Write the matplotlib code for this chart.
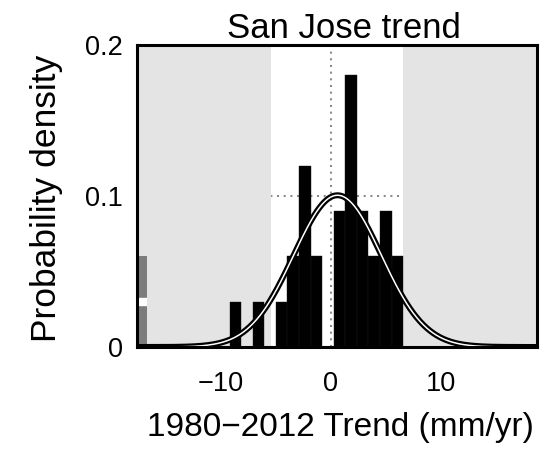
import numpy as np
import matplotlib
matplotlib.use("Agg")
import matplotlib.pyplot as plt

# Histogram of station trends (probability density per bin)
bin_centers = [-8.67, -6.57, -4.47, -3.42, -2.37, -1.32, 0.78, 1.83, 2.88, 3.93, 4.98, 6.03]
bin_density = [0.03, 0.03, 0.03, 0.06, 0.12, 0.06, 0.09, 0.18, 0.09, 0.06, 0.09, 0.06]
bin_width = 1.05

# Excluded values, shown as a gray stacked bar at the left edge
outlier_center = -17.2
outlier_stack = [0.03, 0.03]

# Normal fit and the central band around it
fit_mean = 0.6
fit_std = 3.97
band = [-5.4, 6.55]

x_limits = [-17.6, 18.7]
y_limits = [0, 0.2]
x_ticks = [-10, 0, 10]
y_ticks = [0, 0.1, 0.2]
y_tick_labels = ["0", "0.1", "0.2"]

plt.rcParams["font.family"] = ["Liberation Sans", "DejaVu Sans"]

fig = plt.figure(figsize=(5.49, 4.49), dpi=100)
ax = fig.add_axes([0.2495, 0.2272, 0.7286, 0.6726])
ax.set_xlim(x_limits)
ax.set_ylim(y_limits)

# dotted grid sits beneath the shaded regions
ax.set_axisbelow(True)
ax.grid(True, color="#8c8c8c", linestyle=(0, (1, 2.2)), linewidth=1.5)

shade = "#e4e4e4"
ax.axvspan(x_limits[0], band[0], color=shade, zorder=0.7, lw=0)
ax.axvspan(band[1], x_limits[1], color=shade, zorder=0.7, lw=0)

ax.bar(bin_centers, bin_density, width=bin_width, color="black",
       edgecolor="#1c1c1c", linewidth=0.3, zorder=2)

bottom = 0.0
for h in outlier_stack:
    ax.bar([outlier_center], [h], bottom=bottom, width=bin_width, color="#7c7c7c",
           linewidth=0, zorder=2)
    bottom += h
# white seam between the stacked pieces
seam = outlier_stack[0]
ax.plot([outlier_center - bin_width / 2, outlier_center + bin_width / 2], [seam, seam],
        color="white", linewidth=6, zorder=2.1, solid_capstyle="butt")

xs = np.linspace(x_limits[0], x_limits[1], 600)
pdf = np.exp(-0.5 * ((xs - fit_mean) / fit_std) ** 2) / (fit_std * np.sqrt(2 * np.pi))
ax.plot(xs, pdf, color="black", linewidth=4.3, zorder=3, solid_capstyle="butt")
ax.plot(xs, pdf, color="white", linewidth=1.1, zorder=4)

ax.set_xticks(x_ticks)
ax.set_yticks(y_ticks)
ax.set_yticklabels(y_tick_labels)
ax.tick_params(direction="in", length=0, labelsize=19.5, pad=10)
ax.tick_params(axis="x", pad=17)

for sp in ax.spines.values():
    sp.set_linewidth(2.2)
    sp.set_zorder(5)

ax.set_title("San Jose trend", fontsize=25, pad=5, x=0.5175)
ax.set_xlabel("1980\u22122012 Trend (mm/yr)", fontsize=24)
ax.set_ylabel("Probability density", fontsize=25.5)
ax.xaxis.set_label_coords(0.5075, -0.215)
ax.yaxis.set_label_coords(-0.185, 0.493)

fig.savefig("out.png", dpi=100)
